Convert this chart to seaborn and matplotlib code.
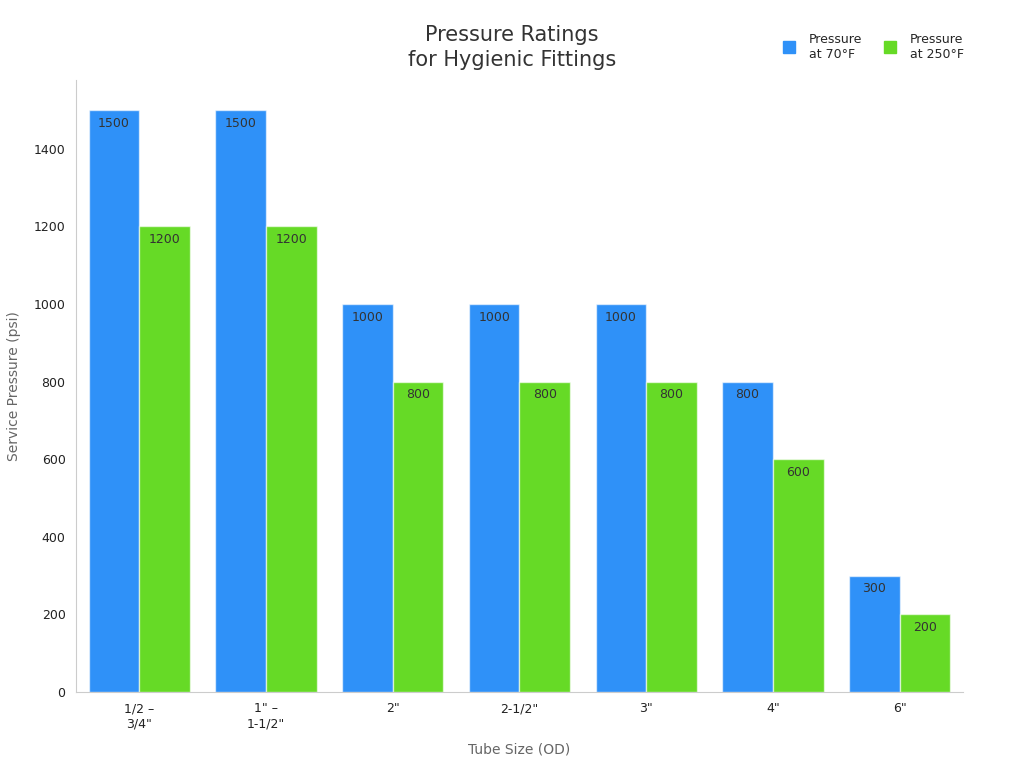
import matplotlib
matplotlib.use("Agg")
import matplotlib.pyplot as plt
import seaborn as sns
import pandas as pd
from matplotlib.lines import Line2D

categories = ['1/2 –\n3/4"', '1" –\n1-1/2"', '2"', '2-1/2"', '3"', '4"', '6"']
pressure_70 = [1500, 1500, 1000, 1000, 1000, 800, 300]
pressure_250 = [1200, 1200, 800, 800, 800, 600, 200]
series_names = ["Pressure\nat 70°F", "Pressure\nat 250°F"]
colors = ["#2F91F8", "#66DA26"]

df = pd.DataFrame({
    "Tube Size": categories * 2,
    "Pressure": pressure_70 + pressure_250,
    "Series": [series_names[0]] * len(categories) + [series_names[1]] * len(categories),
})

sns.set_theme(style="white")
plt.rcParams['font.family'] = ['DejaVu Sans']

fig = plt.figure(figsize=(10.24, 7.68), dpi=100)
ax = fig.add_axes([0.0742, 0.099, 0.8662, 0.797])

sns.barplot(data=df, x="Tube Size", y="Pressure", hue="Series", palette=colors,
            saturation=1, width=0.8, ax=ax, edgecolor=(1, 1, 1, 0.6), linewidth=1,
            legend=False)

for container in ax.containers:
    ax.bar_label(container, padding=-14, fontsize=9, color="#333333")

ax.set_ylim(0, 1578)
ax.set_xlim(-0.5, 6.5)
ax.set_yticks([0, 200, 400, 600, 800, 1000, 1200, 1400])
ax.set_xlabel("Tube Size (OD)", fontsize=10, color="#666666", labelpad=9)
ax.set_ylabel("Service Pressure (psi)", fontsize=10, color="#666666", labelpad=9)
ax.tick_params(axis="both", labelsize=9, labelcolor="#222222", length=4, width=0.8,
               color="#666666")
for s in ["top", "right"]:
    ax.spines[s].set_visible(False)
for s in ["left", "bottom"]:
    ax.spines[s].set_color("#cccccc")
    ax.spines[s].set_linewidth(0.8)

fig.suptitle("Pressure Ratings\nfor Hygienic Fittings", x=0.5, y=0.968, fontsize=15,
             color="#333333", linespacing=1.35)

handles = [Line2D([0], [0], marker="s", linestyle="", markersize=8,
                  markerfacecolor=c, markeredgecolor=c) for c in colors]
fig.legend(handles, series_names, loc="upper right", bbox_to_anchor=(0.952, 0.972),
           ncol=2, frameon=False, fontsize=9, handletextpad=0.6, columnspacing=1.2)

fig.savefig("out.png", dpi=100)
